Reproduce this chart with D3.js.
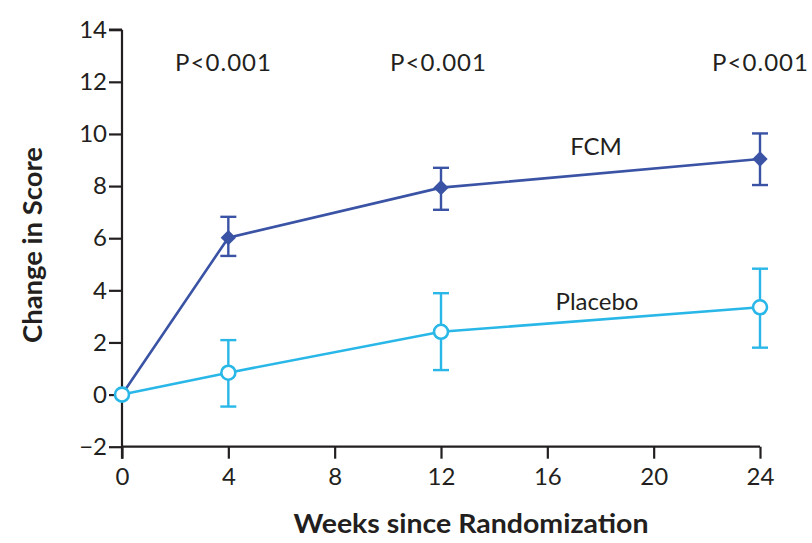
<!DOCTYPE html>
<html>
<head>
<meta charset="utf-8">
<script src="https://cdn.jsdelivr.net/npm/d3@7"></script>
<style>
  html, body { margin: 0; padding: 0; background: #fff; }
  svg { display: block; }
  text { font-family: Lato, "Open Sans", sans-serif; fill: #231f20; }
</style>
</head>
<body>
<svg id="chart" width="812" height="543"></svg>
<script>
// ---- data ----
const weeks = [0, 4, 12, 24];
const fcmMean = [0, 6.02, 7.94, 9.04];
const fcmLow = [0, 5.32, 7.09, 8.04];
const fcmHigh = [0, 6.82, 8.70, 10.02];
const placeboMean = [0, 0.84, 2.41, 3.35];
const placeboLow = [0, -0.46, 0.94, 1.80];
const placeboHigh = [0, 2.09, 3.89, 4.83];
const xTicks = [0, 4, 8, 12, 16, 20, 24];
const yTicks = [-2, 0, 2, 4, 6, 8, 10, 12, 14];
const pLabels = [{ week: 4, text: "P<0.001" }, { week: 12, text: "P<0.001" }, { week: 24, text: "P<0.001" }];
const seriesNames = ["FCM", "Placebo"];

const svg = d3.select("#chart");
const x = d3.scaleLinear().domain([0, 24]).range([122, 760]);
const y = d3.scaleLinear().domain([-2, 14]).range([446.7, 29.7]);
const axisColor = "#231f20";
const fcmColor = "#3a53a5";
const plColor = "#29b7e8";

// axes
const yAxis = svg.append("g").attr("transform", `translate(${x(0)},0)`)
  .call(d3.axisLeft(y).tickValues(yTicks).tickSize(13).tickPadding(2)
    .tickFormat(d => d < 0 ? "\u2212" + Math.abs(d) : d));
const xAxis = svg.append("g").attr("transform", `translate(0,${y(-2)})`)
  .call(d3.axisBottom(x).tickValues(xTicks).tickSize(12).tickPadding(9));
[xAxis, yAxis].forEach(g => {
  g.select(".domain").attr("stroke", axisColor).attr("stroke-width", 2.2);
  g.selectAll(".tick line").attr("stroke", axisColor).attr("stroke-width", 2.2);
  g.selectAll(".tick text").attr("font-size", 24).attr("fill", axisColor)
    .style("font-family", "Lato, 'Open Sans', sans-serif");
});
yAxis.select(".domain").attr("d", `M0,${y(14)}H-13M0,${y(14)}V${y(-2) + 12}`);
xAxis.select(".domain").attr("d", `M${x(0)},0H${x(24)}`);

// series
function drawSeries(mean, low, high, color, marker) {
  const pts = weeks.map((w, i) => ({ w, m: mean[i], lo: low[i], hi: high[i] }));
  const line = d3.line().x(d => x(d.w)).y(d => y(d.m));
  svg.append("path").datum(pts).attr("d", line)
    .attr("fill", "none").attr("stroke", color).attr("stroke-width", 2.6);
  const eb = svg.append("g").attr("stroke", color).attr("stroke-width", 2.4);
  pts.filter(d => d.hi !== d.lo).forEach(d => {
    eb.append("line").attr("x1", x(d.w)).attr("x2", x(d.w)).attr("y1", y(d.lo)).attr("y2", y(d.hi));
    eb.append("line").attr("x1", x(d.w) - 8).attr("x2", x(d.w) + 8).attr("y1", y(d.lo)).attr("y2", y(d.lo));
    eb.append("line").attr("x1", x(d.w) - 8).attr("x2", x(d.w) + 8).attr("y1", y(d.hi)).attr("y2", y(d.hi));
  });
  if (marker === "diamond") {
    svg.append("g").selectAll("path").data(pts.filter(d => d.w > 0)).join("path")
      .attr("d", d3.symbol().type(d3.symbolDiamond2).size(150))
      .attr("transform", d => `translate(${x(d.w)},${y(d.m)})`)
      .attr("fill", color);
  } else {
    svg.append("g").selectAll("circle").data(pts).join("circle")
      .attr("cx", d => x(d.w)).attr("cy", d => y(d.m)).attr("r", 7)
      .attr("fill", "#fff").attr("stroke", color).attr("stroke-width", 2.6);
  }
}
drawSeries(fcmMean, fcmLow, fcmHigh, fcmColor, "diamond");
drawSeries(placeboMean, placeboLow, placeboHigh, plColor, "circle");

// series labels
svg.append("text").attr("x", 596).attr("y", 155).attr("text-anchor", "middle")
  .attr("font-size", 24).text(seriesNames[0]);
svg.append("text").attr("x", 597).attr("y", 310).attr("text-anchor", "middle")
  .attr("font-size", 24).text(seriesNames[1]);

// P values
svg.append("g").selectAll("text").data(pLabels).join("text")
  .attr("x", (d, i) => [223, 438, 760][i]).attr("y", 71).attr("text-anchor", "middle")
  .attr("font-size", 24).attr("textLength", 96).attr("lengthAdjust", "spacing").text(d => d.text);

// axis titles
svg.append("text").attr("x", 471).attr("y", 533).attr("text-anchor", "middle")
  .attr("font-size", 27).attr("font-weight", "bold")
  .attr("textLength", 355).attr("lengthAdjust", "spacingAndGlyphs").text("Weeks since Randomization");
svg.append("text").attr("transform", "translate(42,245) rotate(-90)").attr("text-anchor", "middle")
  .attr("font-size", 26).attr("font-weight", "bold")
  .attr("textLength", 196).attr("lengthAdjust", "spacingAndGlyphs").text("Change in Score");
</script>
</body>
</html>
